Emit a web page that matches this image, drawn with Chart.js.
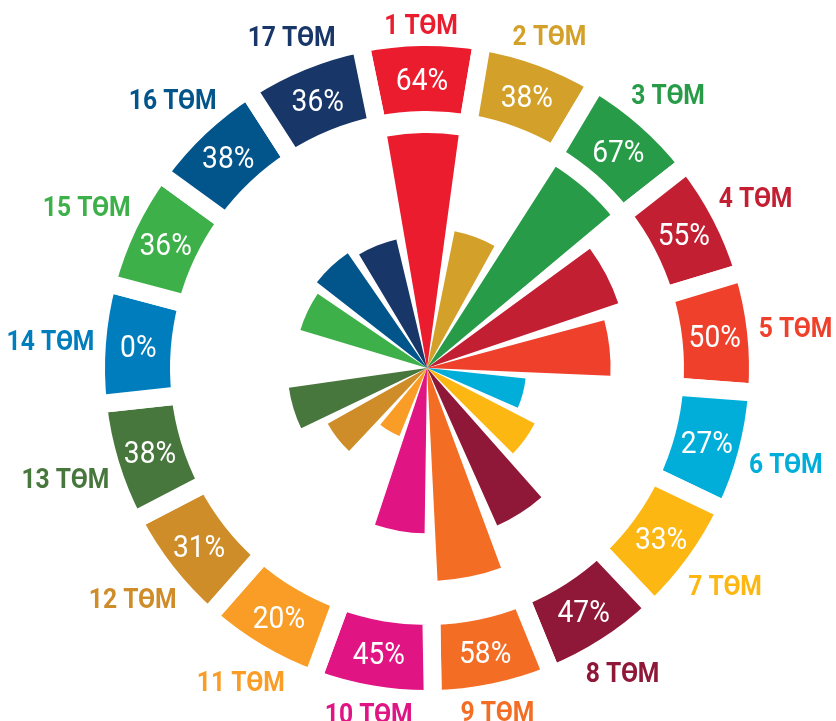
<!DOCTYPE html>
<html>
<head>
<meta charset="utf-8">
<script src="https://cdn.jsdelivr.net/npm/chart.js@4.4.1/dist/chart.umd.min.js"></script>
<style>
  html, body { margin: 0; padding: 0; background: #fff; }
  #wrap { position: relative; width: 836px; height: 721px; }
  #wrap canvas { position: absolute; left: 0; top: 0; }
</style>
</head>
<body>
<div id="wrap">
  <canvas id="wedges" width="836" height="721"></canvas>
  <canvas id="ring" width="836" height="721"></canvas>
</div>
<script>
const goals = ['1 ТӨМ', '2 ТӨМ', '3 ТӨМ', '4 ТӨМ', '5 ТӨМ', '6 ТӨМ', '7 ТӨМ', '8 ТӨМ', '9 ТӨМ',
  '10 ТӨМ', '11 ТӨМ', '12 ТӨМ', '13 ТӨМ', '14 ТӨМ', '15 ТӨМ', '16 ТӨМ', '17 ТӨМ'];
const shares = [64, 38, 67, 55, 50, 27, 33, 47, 58, 45, 20, 31, 38, 0, 36, 38, 36];
const ringSlots = [1, 1, 1, 1, 1, 1, 1, 1, 1, 1, 1, 1, 1, 1, 1, 1, 1];
const goalColors = ['#EB1C2D', '#D3A029', '#279B48', '#C31F33', '#EF402B', '#00AED9', '#FDB713', '#8F1838',
  '#F36D25', '#E11484', '#F99D26', '#CF8D2A', '#48773E', '#007DBC', '#3EB049', '#02558B', '#183668'];

const STEP = 360 / goals.length;
const TILT = -1;            // the whole figure is turned a little anticlockwise
const WEDGE = 17.5;         // angle of an inner wedge, the rest of the step is white
const GAP = STEP - WEDGE;
const RING_BORDER = 18;     // white border = gap between ring pieces
const SQUEEZE = 0.88;       // no condensed font installed, so text is narrowed by hand
const LABEL_FONT = 'bold 28px Roboto, "DejaVu Sans", sans-serif';
const PCT_FONT = '32px Roboto, "DejaVu Sans", sans-serif';

// each goal is followed by an empty slot so the wedges stand apart
const wedgeLabels = goals.flatMap(g => [g, '']);
const wedgeData = shares.flatMap(v => [v, 0]);
const wedgeColors = goalColors.flatMap(c => [c, 'rgba(0,0,0,0)']);

new Chart(document.getElementById('wedges'), {
  type: 'polarArea',
  data: {
    labels: wedgeLabels,
    datasets: [{
      data: wedgeData,
      backgroundColor: wedgeColors,
      borderWidth: 0,
      angle: ctx => ctx.dataIndex % 2 ? GAP : WEDGE
    }]
  },
  options: {
    responsive: false,
    animation: false,
    events: [],
    layout: { padding: { left: 170, right: 152, top: 111, bottom: 96 } },
    plugins: { legend: { display: false }, tooltip: { enabled: false } },
    scales: {
      r: {
        min: 0,
        max: 70,
        startAngle: TILT - WEDGE / 2,
        ticks: { display: false },
        grid: { display: false },
        angleLines: { display: false },
        pointLabels: { display: false }
      }
    }
  }
});

function squeezedText(ctx, text, x, y) {
  ctx.save();
  ctx.translate(x, y);
  ctx.scale(SQUEEZE, 1);
  ctx.fillText(text, 0, 0);
  ctx.restore();
}

const ringText = {
  id: 'ringText',
  afterDatasetsDraw(chart) {
    const ctx = chart.ctx;
    const arcs = chart.getDatasetMeta(0).data;
    ctx.save();
    ctx.textAlign = 'center';
    ctx.textBaseline = 'alphabetic';
    arcs.forEach((arc, i) => {
      const { x, y, startAngle, endAngle, innerRadius, outerRadius } =
        arc.getProps(['x', 'y', 'startAngle', 'endAngle', 'innerRadius', 'outerRadius'], true);
      const mid = (startAngle + endAngle) / 2;
      const c = Math.cos(mid), s = Math.sin(mid);

      // percentage inside the ring
      ctx.font = PCT_FONT;
      ctx.fillStyle = '#fff';
      const rm = (innerRadius + outerRadius) / 2;
      const pct = shares[i] + '%';
      const pm = ctx.measureText(pct);
      squeezedText(ctx, pct, x + c * rm, y + s * rm + pm.actualBoundingBoxAscent / 2);

      // goal name outside the ring
      ctx.font = LABEL_FONT;
      ctx.fillStyle = goalColors[i];
      const m = ctx.measureText(goals[i]);
      const w = m.width * SQUEEZE;
      const h = m.actualBoundingBoxAscent;
      const d = outerRadius - RING_BORDER / 2 + 11 + Math.abs(c) * w / 2 + Math.abs(s) * h / 2;
      squeezedText(ctx, goals[i], x + c * d, y + s * d + h / 2);
    });
    ctx.restore();
  }
};

new Chart(document.getElementById('ring'), {
  type: 'doughnut',
  data: {
    labels: goals,
    datasets: [{
      data: ringSlots,
      backgroundColor: goalColors,
      borderColor: '#fff',
      borderWidth: RING_BORDER,
      hoverBorderWidth: RING_BORDER
    }]
  },
  options: {
    responsive: false,
    animation: false,
    events: [],
    rotation: TILT - STEP / 2,
    cutout: 248,
    layout: { padding: { left: 87, right: 69, top: 28, bottom: 13 } },
    plugins: { legend: { display: false }, tooltip: { enabled: false } }
  },
  plugins: [ringText]
});
</script>
</body>
</html>
